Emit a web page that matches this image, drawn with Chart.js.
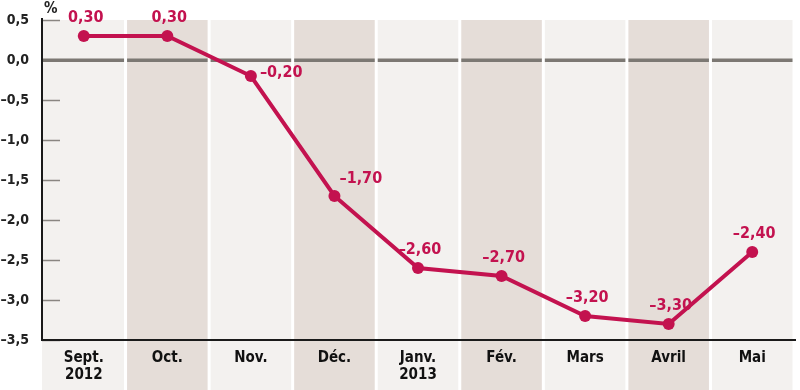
<!DOCTYPE html>
<html>
<head>
<meta charset="utf-8">
<script src="https://cdn.jsdelivr.net/npm/chart.js@4"></script>
<style>
    html, body { margin: 0; padding: 0; background: #fff; }
    #wrap { width: 800px; height: 390px; }
</style>
</head>
<body>
<div id="wrap"><canvas id="myLineChart" width="800" height="390"></canvas></div>
<script>
    const months = [['Sept.', '2012'], 'Oct.', 'Nov.', 'Déc.', ['Janv.', '2013'], 'Fév.', 'Mars', 'Avril', 'Mai'];
    const values = [0.30, 0.30, -0.20, -1.70, -2.60, -2.70, -3.20, -3.30, -2.40];
    const yTicks = [0.5, 0.0, -0.5, -1.0, -1.5, -2.0, -2.5, -3.0, -3.5];
    // where each value label goes relative to its point
    const labelSide = ['top', 'top', 'right', 'topRight', 'top', 'top', 'top', 'top', 'top'];

    const RED = '#c3124f';
    const FONT = '"Liberation Sans Narrow", "DejaVu Sans Condensed", "Liberation Sans", sans-serif';

    const fmt = (v, d) => (v < 0 ? '\u2013' : '') + Math.abs(v).toFixed(d).replace('.', ',');

    const columnsPlugin = {
        id: 'columns',
        beforeDraw: function (chart) {
            const ctx = chart.ctx;
            const area = chart.chartArea;
            const y = chart.scales.y;
            const step = (area.right - area.left) / months.length;
            ctx.save();
            ctx.fillStyle = '#fff';
            ctx.fillRect(0, 0, chart.width, chart.height);
            const y0 = y.getPixelForValue(0);
            months.forEach((m, i) => {
                let left = area.left + i * step + (i === 0 ? 0 : 1.5);
                let right = area.left + (i + 1) * step - 1.5;
                ctx.fillStyle = i % 2 === 0 ? '#f3f1ef' : '#e5ddd8';
                ctx.fillRect(left, area.top, right - left, chart.height - area.top);
                ctx.fillStyle = '#7c7873';
                ctx.fillRect(left, y0 - 1.5, right - left, 3.5);
            });
            // small tick marks inside
            ctx.strokeStyle = '#8a8682';
            ctx.lineWidth = 1.5;
            yTicks.forEach(t => {
                if (t === 0) return;
                let py = Math.round(y.getPixelForValue(t)) + 0.5;
                ctx.beginPath();
                ctx.moveTo(area.left, py);
                ctx.lineTo(area.left + 18, py);
                ctx.stroke();
            });
            // axes
            ctx.strokeStyle = '#1a1a1a';
            ctx.lineWidth = 2;
            ctx.beginPath();
            ctx.moveTo(area.left, area.top - 2);
            ctx.lineTo(area.left, area.bottom);
            ctx.lineTo(area.right + 2, area.bottom);
            ctx.stroke();
            // unit
            ctx.fillStyle = '#222';
            ctx.font = 'bold 15px ' + FONT;
            ctx.textAlign = 'left';
            ctx.textBaseline = 'middle';
            ctx.fillText('%', area.left + 2, 9);
            ctx.restore();
        },
        afterDatasetsDraw: function (chart) {
            const ctx = chart.ctx;
            const meta = chart.getDatasetMeta(0);
            ctx.save();
            ctx.fillStyle = RED;
            ctx.font = 'bold 16px ' + FONT;
            ctx.textBaseline = 'middle';
            meta.data.forEach((pt, i) => {
                let text = fmt(values[i], 2);
                if (labelSide[i] === 'right') {
                    ctx.textAlign = 'left';
                    ctx.fillText(text, pt.x + 9, pt.y - 3);
                } else if (labelSide[i] === 'topRight') {
                    ctx.textAlign = 'left';
                    ctx.fillText(text, pt.x + 5, pt.y - 17);
                } else {
                    ctx.textAlign = 'center';
                    ctx.fillText(text, pt.x + 2, pt.y - 18);
                }
            });
            ctx.restore();
        }
    };

    new Chart(document.getElementById('myLineChart').getContext('2d'), {
        type: 'line',
        data: {
            labels: months,
            datasets: [{
                data: values,
                borderColor: RED,
                backgroundColor: RED,
                borderWidth: 4,
                pointRadius: 6,
                pointBackgroundColor: RED,
                pointBorderWidth: 0,
                tension: 0,
                fill: false
            }]
        },
        options: {
            responsive: false,
            animation: false,
            layout: { padding: { top: 20, right: 2, left: 0, bottom: 0 } },
            plugins: {
                legend: { display: false },
                tooltip: { enabled: false }
            },
            scales: {
                x: {
                    offset: true,
                    grid: { display: false },
                    border: { display: false },
                    ticks: {
                        color: '#111',
                        font: { family: FONT, size: 15, weight: 'bold', lineHeight: 1.15 },
                        padding: 1,
                        maxRotation: 0,
                        autoSkip: false
                    },
                    afterFit: function (scale) { scale.height = 50; }
                },
                y: {
                    min: -3.5,
                    max: 0.5,
                    grid: { display: false },
                    border: { display: false },
                    ticks: {
                        stepSize: 0.5,
                        color: '#222',
                        padding: 5,
                        font: { family: FONT, size: 14, weight: 'bold' },
                        callback: v => fmt(v, 1)
                    },
                    afterFit: function (scale) { scale.width = 42; }
                }
            }
        },
        plugins: [columnsPlugin]
    });
</script>
</body>
</html>
